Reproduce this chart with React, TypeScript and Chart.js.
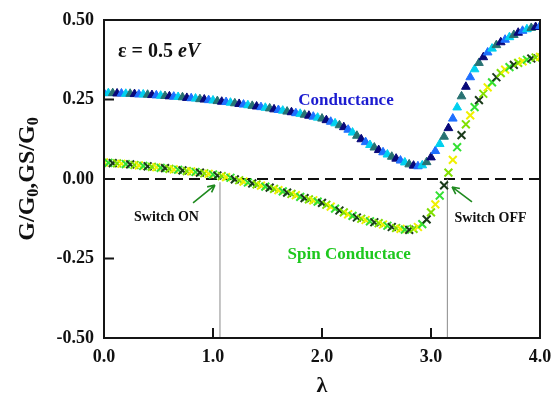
import React, { useEffect, useRef } from 'react';
import { Chart, registerables } from 'chart.js';

Chart.register(...registerables);

const SERIF = '"Liberation Serif", "Times New Roman", serif';

const LAMBDA = [
  0, 0.04, 0.08, 0.12, 0.16, 0.2, 0.24, 0.28, 0.32, 0.36,
  0.4, 0.44, 0.48, 0.52, 0.56, 0.6, 0.64, 0.68, 0.72, 0.76,
  0.8, 0.84, 0.88, 0.92, 0.96, 1, 1.04, 1.08, 1.12, 1.16,
  1.2, 1.24, 1.28, 1.32, 1.36, 1.4, 1.44, 1.48, 1.52, 1.56,
  1.6, 1.64, 1.68, 1.72, 1.76, 1.8, 1.84, 1.88, 1.92, 1.96,
  2, 2.04, 2.08, 2.12, 2.16, 2.2, 2.24, 2.28, 2.32, 2.36,
  2.4, 2.44, 2.48, 2.52, 2.56, 2.6, 2.64, 2.68, 2.72, 2.76,
  2.8, 2.84, 2.88, 2.92, 2.96, 3, 3.04, 3.08, 3.12, 3.16,
  3.2, 3.24, 3.28, 3.32, 3.36, 3.4, 3.44, 3.48, 3.52, 3.56,
  3.6, 3.64, 3.68, 3.72, 3.76, 3.8, 3.84, 3.88, 3.92, 3.96,
  4,
];

const CONDUCTANCE = [
  0.270, 0.270, 0.270, 0.269, 0.269, 0.268, 0.268, 0.267, 0.266, 0.266,
  0.265, 0.264, 0.263, 0.262, 0.261, 0.260, 0.259, 0.258, 0.257, 0.255,
  0.254, 0.253, 0.251, 0.250, 0.248, 0.247, 0.245, 0.243, 0.242, 0.240,
  0.238, 0.236, 0.234, 0.232, 0.230, 0.228, 0.226, 0.224, 0.222, 0.219,
  0.217, 0.215, 0.212, 0.210, 0.207, 0.205, 0.202, 0.199, 0.196, 0.193,
  0.190, 0.185, 0.180, 0.175, 0.169, 0.163, 0.155, 0.146, 0.136, 0.125,
  0.116, 0.107, 0.099, 0.091, 0.084, 0.077, 0.070, 0.064, 0.058, 0.052,
  0.046, 0.042, 0.040, 0.043, 0.053, 0.068, 0.088, 0.110, 0.133, 0.160,
  0.190, 0.225, 0.260, 0.290, 0.320, 0.345, 0.365, 0.383, 0.398, 0.410,
  0.421, 0.430, 0.438, 0.446, 0.453, 0.460, 0.466, 0.471, 0.475, 0.478,
  0.481,
];

const SPIN = [
  0.052, 0.051, 0.050, 0.049, 0.048, 0.047, 0.046, 0.044, 0.043, 0.041,
  0.040, 0.038, 0.037, 0.035, 0.034, 0.032, 0.030, 0.029, 0.027, 0.025,
  0.024, 0.022, 0.020, 0.018, 0.016, 0.014, 0.011, 0.009, 0.006, 0.004,
  -0.001, -0.004, -0.008, -0.011, -0.014, -0.017, -0.021, -0.024, -0.027, -0.031,
  -0.035, -0.039, -0.043, -0.047, -0.051, -0.056, -0.060, -0.064, -0.067, -0.071,
  -0.075, -0.081, -0.087, -0.093, -0.099, -0.105, -0.111, -0.116, -0.121, -0.125,
  -0.129, -0.133, -0.136, -0.139, -0.143, -0.147, -0.151, -0.154, -0.157, -0.159,
  -0.160, -0.157, -0.151, -0.142, -0.127, -0.105, -0.080, -0.052, -0.020, 0.020,
  0.060, 0.100, 0.138, 0.172, 0.200, 0.226, 0.248, 0.268, 0.288, 0.304,
  0.320, 0.333, 0.344, 0.352, 0.359, 0.365, 0.370, 0.375, 0.379, 0.382,
  0.384,
];

const X_TICKS = [0, 1, 2, 3, 4];
const Y_TICKS = [-0.5, -0.25, 0, 0.25, 0.5];

const SWITCH_ON = 1.064;
const SWITCH_OFF = 3.15;

const C_COLORS = ['#1e6fff', '#00d0ee', '#287272', '#08087a'];
const S_COLORS = ['#f0f000', '#33e033', '#1a3a1a', '#80e000'];

export default function App() {
  const ref = useRef<HTMLCanvasElement>(null);

  useEffect(() => {
    document.body.style.margin = '0';
    const canvas = ref.current;
    if (!canvas) return;

    const overlay = {
      id: 'overlay',
      beforeDatasetsDraw(chart: any) {
        const { ctx, chartArea: a, scales } = chart;
        const xs = scales.x;
        const ys = scales.y;
        ctx.save();
        ctx.strokeStyle = '#111';
        ctx.lineWidth = 2;
        ctx.setLineDash([11, 6]);
        ctx.beginPath();
        ctx.moveTo(a.left, ys.getPixelForValue(0));
        ctx.lineTo(a.right, ys.getPixelForValue(0));
        ctx.stroke();
        ctx.setLineDash([]);
        ctx.strokeStyle = '#8a8a8a';
        ctx.lineWidth = 1;
        ctx.beginPath();
        ctx.moveTo(xs.getPixelForValue(SWITCH_ON), ys.getPixelForValue(-0.01));
        ctx.lineTo(xs.getPixelForValue(SWITCH_ON), a.bottom);
        ctx.moveTo(xs.getPixelForValue(SWITCH_OFF), ys.getPixelForValue(0.0));
        ctx.lineTo(xs.getPixelForValue(SWITCH_OFF), a.bottom);
        ctx.stroke();
        ctx.restore();
      },
      afterDatasetsDraw(chart: any) {
        const { ctx, chartArea: a, scales } = chart;
        const xs = scales.x;
        const ys = scales.y;
        const px = (v: number) => xs.getPixelForValue(v);
        const py = (v: number) => ys.getPixelForValue(v);
        ctx.save();
        ctx.strokeStyle = '#151515';
        ctx.lineWidth = 2;
        ctx.strokeRect(a.left, a.top, a.right - a.left, a.bottom - a.top);
        ctx.beginPath();
        Y_TICKS.forEach((t) => {
          ctx.moveTo(a.left, py(t));
          ctx.lineTo(a.left + 10, py(t));
        });
        X_TICKS.forEach((t) => {
          ctx.moveTo(px(t), a.bottom);
          ctx.lineTo(px(t), a.bottom - 10);
        });
        ctx.stroke();

        const arrow = (x1: number, y1: number, x2: number, y2: number) => {
          const X1 = px(x1), Y1 = py(y1), X2 = px(x2), Y2 = py(y2);
          const ang = Math.atan2(Y2 - Y1, X2 - X1);
          ctx.strokeStyle = '#1f8a1f';
          ctx.lineWidth = 1.6;
          ctx.beginPath();
          ctx.moveTo(X1, Y1);
          ctx.lineTo(X2, Y2);
          ctx.moveTo(X2, Y2);
          ctx.lineTo(X2 - 8 * Math.cos(ang - 0.45), Y2 - 8 * Math.sin(ang - 0.45));
          ctx.moveTo(X2, Y2);
          ctx.lineTo(X2 - 8 * Math.cos(ang + 0.45), Y2 - 8 * Math.sin(ang + 0.45));
          ctx.stroke();
        };
        arrow(0.817, -0.075, 1.018, -0.019);
        arrow(3.376, -0.072, 3.193, -0.025);

        ctx.textBaseline = 'middle';
        ctx.textAlign = 'center';
        ctx.fillStyle = '#111';
        ctx.font = `bold 14px ${SERIF}`;
        ctx.fillText('Switch ON', px(0.573), py(-0.12));
        ctx.fillText('Switch OFF', px(3.546), py(-0.123));

        ctx.font = `bold 17px ${SERIF}`;
        ctx.fillStyle = '#1c1cd0';
        ctx.fillText('Conductance', px(2.22), py(0.245));
        ctx.fillStyle = '#1ec81e';
        ctx.fillText('Spin Conductace', px(2.25), py(-0.239));

        ctx.textAlign = 'left';
        ctx.fillStyle = '#111';
        ctx.font = `bold 20px ${SERIF}`;
        const part1 = 'ε = 0.5 ';
        const ex = px(0.128);
        const ey = py(0.4);
        ctx.fillText(part1, ex, ey);
        const w1 = ctx.measureText(part1).width;
        ctx.font = `italic bold 20px ${SERIF}`;
        ctx.fillText('eV', ex + w1, ey);

        ctx.textAlign = 'center';
        ctx.font = `bold 22px ${SERIF}`;
        ctx.fillText('λ', (a.left + a.right) / 2, 386);

        const segs: [string, boolean][] = [
          ['G/G', false], ['0', true], [',GS/G', false], ['0', true],
        ];
        const big = `bold 24px ${SERIF}`;
        const small = `bold 16px ${SERIF}`;
        let total = 0;
        segs.forEach(([s, sub]) => {
          ctx.font = sub ? small : big;
          total += ctx.measureText(s).width;
        });
        ctx.translate(34, (a.top + a.bottom) / 2);
        ctx.rotate(-Math.PI / 2);
        ctx.textAlign = 'left';
        ctx.textBaseline = 'alphabetic';
        let cx = -total / 2;
        segs.forEach(([s, sub]) => {
          ctx.font = sub ? small : big;
          ctx.fillText(s, cx, sub ? 4 : 0);
          cx += ctx.measureText(s).width;
        });
        ctx.restore();
      },
    };

    const chart = new Chart(canvas, {
      type: 'scatter',
      data: {
        datasets: [
          {
            label: 'Spin Conductance',
            data: LAMBDA.map((x, i) => ({ x, y: SPIN[i] })),
            showLine: false,
            pointStyle: 'crossRot',
            pointRadius: 5.5,
            pointBorderWidth: 2,
            pointBorderColor: (c: any) => S_COLORS[c.dataIndex % S_COLORS.length],
            pointBackgroundColor: (c: any) => S_COLORS[c.dataIndex % S_COLORS.length],
          },
          {
            label: 'Conductance',
            data: LAMBDA.map((x, i) => ({ x, y: CONDUCTANCE[i] })),
            showLine: false,
            pointStyle: 'triangle',
            pointRadius: 5,
            pointBorderWidth: 1,
            pointBorderColor: (c: any) => C_COLORS[c.dataIndex % C_COLORS.length],
            pointBackgroundColor: (c: any) => C_COLORS[c.dataIndex % C_COLORS.length],
          },
        ],
      },
      options: {
        animation: false,
        responsive: true,
        maintainAspectRatio: false,
        layout: { padding: { top: 20, right: 13, left: 0, bottom: 0 } },
        plugins: { legend: { display: false }, tooltip: { enabled: false } },
        scales: {
          x: {
            type: 'linear',
            min: 0,
            max: 4,
            afterBuildTicks: (s: any) => { s.ticks = X_TICKS.map((v) => ({ value: v })); },
            afterFit: (s: any) => { s.height = 68; s.paddingLeft = 0; s.paddingRight = 0; },
            grid: { display: false, drawTicks: false },
            border: { display: false },
            ticks: {
              padding: 9,
              color: '#111',
              font: { family: SERIF, size: 18, weight: 'bold' },
              callback: (v: any) => Number(v).toFixed(1),
              maxRotation: 0,
            },
          },
          y: {
            type: 'linear',
            min: -0.5,
            max: 0.5,
            afterBuildTicks: (s: any) => { s.ticks = Y_TICKS.map((v) => ({ value: v })); },
            afterFit: (s: any) => { s.width = 104; s.paddingTop = 0; s.paddingBottom = 0; },
            grid: { display: false, drawTicks: false },
            border: { display: false },
            ticks: {
              padding: 10,
              color: '#111',
              font: { family: SERIF, size: 18, weight: 'bold' },
              callback: (v: any) => Number(v).toFixed(2),
            },
          },
        },
      },
      plugins: [overlay],
    } as any);

    return () => chart.destroy();
  }, []);

  return (
    <div style={{ position: 'relative', width: 553, height: 406 }}>
      <canvas ref={ref} />
    </div>
  );
}
